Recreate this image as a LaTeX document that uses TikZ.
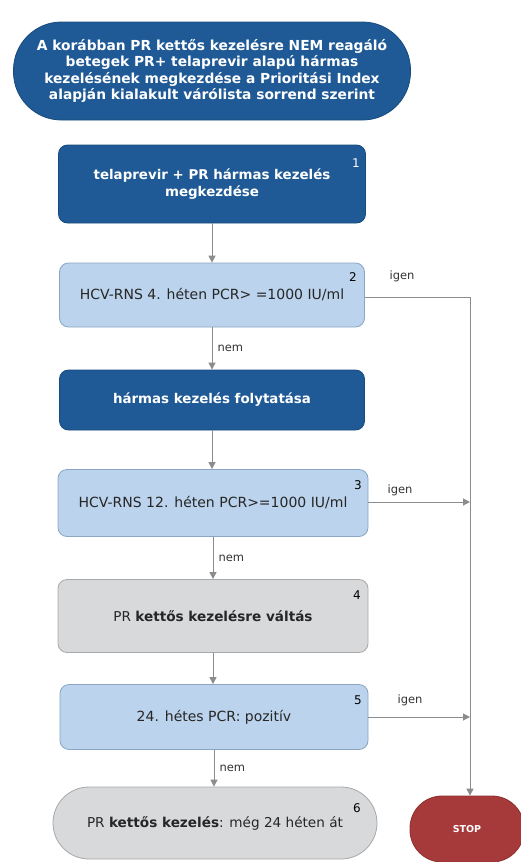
\documentclass[tikz,border=0pt]{standalone}
\usepackage{fontspec}
\setmainfont{DejaVu Sans}
\usetikzlibrary{arrows.meta}
\definecolor{darkb}{HTML}{1F5A96}
\definecolor{darkbd}{HTML}{174A7C}
\definecolor{lightb}{HTML}{BBD3EC}
\definecolor{lightbd}{HTML}{8AA6C4}
\definecolor{greyf}{HTML}{D8D9DB}
\definecolor{greyd}{HTML}{A8A8A8}
\definecolor{stopred}{HTML}{A63A3A}
\definecolor{linec}{HTML}{8C8C8C}
\tikzset{
  base/.style={draw, line width=0.8pt, align=center, inner sep=2pt},
  darkbox/.style={base, fill=darkb, draw=darkbd, text=white, font=\fontsize{13.4}{16.5}\selectfont\bfseries, rounded corners=9pt},
  lightbox/.style={base, fill=lightb, draw=lightbd, text=black!85, font=\fontsize{14}{17}\selectfont, rounded corners=9pt},
  greybox/.style={base, fill=greyf, draw=greyd, text=black!85, font=\fontsize{13.6}{17}\selectfont, rounded corners=9pt},
  numlbl/.style={font=\fontsize{12}{14}\selectfont, inner sep=0pt},
  edgelbl/.style={font=\fontsize{11.5}{14}\selectfont, text=black!80, inner sep=0pt},
  conn/.style={draw=linec, line width=1pt},
  arr/.style={conn, -{Triangle[length=7pt,width=7pt]}},
}
\begin{document}
\begin{tikzpicture}[x=1pt,y=-1pt]
\useasboundingbox[fill=white] (0,0) rectangle (521,862);

\node[darkbox, font=\fontsize{13.8}{16.4}\selectfont\bfseries, rounded corners=48pt, minimum width=397pt, minimum height=98pt] (top) at (212,71)
  {A korábban PR kettős kezelésre NEM reagáló\\betegek PR+ telaprevir alapú hármas\\kezelésének megkezdése a Prioritási Index\\alapján kialakult várólista sorrend szerint};

\node[darkbox, minimum width=307pt, minimum height=78pt] (b1) at (212,184)
  {telaprevir + PR hármas kezelés\\megkezdése};
\node[lightbox, minimum width=305pt, minimum height=64pt] (b2) at (212,295)
  {HCV-RNS 4. héten PCR> =1000 IU/ml};
\node[darkbox, minimum width=305pt, minimum height=60pt] (b3) at (212,400)
  {hármas kezelés folytatása};
\node[lightbox, minimum width=310pt, minimum height=67pt] (b4) at (213,503)
  {HCV-RNS 12. héten PCR>=1000 IU/ml};
\node[greybox, minimum width=310pt, minimum height=73pt] (b5) at (213,616)
  {PR \textbf{kettős kezelésre váltás}};
\node[lightbox, minimum width=308pt, minimum height=65pt] (b6) at (214,717)
  {24. hétes PCR: pozitív};
\node[greybox, rounded corners=36pt, minimum width=324pt, minimum height=72pt] (b7) at (215,823)
  {PR \textbf{kettős kezelés}: még 24 héten át};
\node[base, fill=stopred, draw=stopred!85!black, text=white, rounded corners=32pt, minimum width=114pt, minimum height=66pt, font=\fontsize{9.5}{11}\selectfont\bfseries] (stop) at (467,829) {STOP};

\node[numlbl, text=white] (n1) at (356,163) {1};
\node[numlbl] (n2) at (353,277) {2};
\node[numlbl] (n3) at (358,485) {3};
\node[numlbl] (n4) at (357,595) {4};
\node[numlbl] (n5) at (358,700) {5};
\node[numlbl] (n6) at (357,808) {6};

\coordinate (c2) at (470,297);
\coordinate (c4) at (470,502);
\coordinate (c6) at (470,717);

\draw[arr] (b1.south) -- (b1.south |- b2.north);
\draw[arr] (b2.south) -- node[edgelbl, right=5pt] (nem1) {nem} (b2.south |- b3.north);
\draw[arr] (b3.south) -- (b3.south |- b4.north);
\draw[arr] (b4.south) -- node[edgelbl, right=5pt] (nem2) {nem} (b4.south |- b5.north);
\draw[arr] (b5.south) -- (b5.south |- b6.north);
\draw[arr] (b6.south) -- node[edgelbl, right=5pt] (nem3) {nem} (b6.south |- b7.north);

\draw[conn] (b2.east |- c2) -- (c2);
\draw[arr] (c2) -- (stop.north -| c2);
\draw[arr] (b4.east |- c4) -- (c4);
\draw[arr] (b6.east |- c6) -- (c6);

\node[edgelbl] (ig1) at (402,276) {igen};
\node[edgelbl] (ig2) at (400,490) {igen};
\node[edgelbl] (ig3) at (410,700) {igen};
\end{tikzpicture}
\end{document}
